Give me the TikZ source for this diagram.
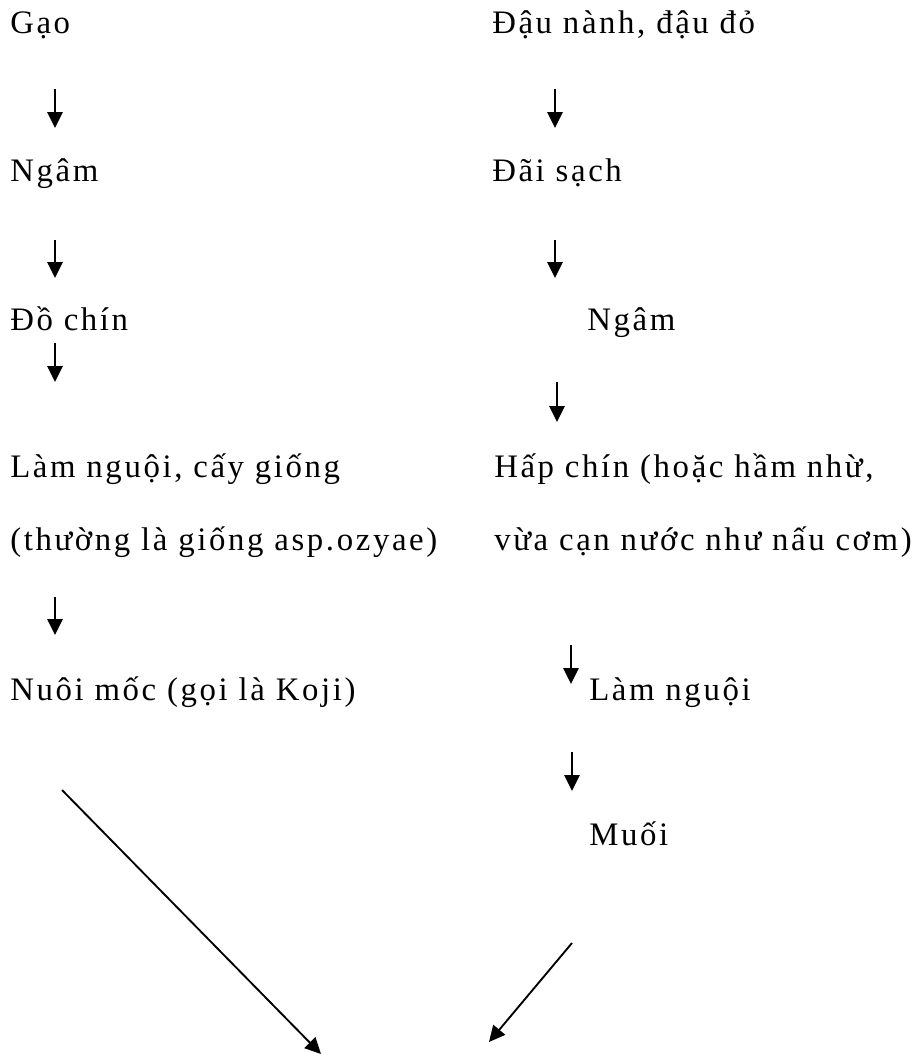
\documentclass[tikz,border=0pt]{standalone}
\usepackage{fontspec}
\setmainfont{Liberation Serif}[LetterSpace=8]
\usetikzlibrary{arrows.meta}
\begin{document}
\begin{tikzpicture}[x=0.75pt,y=-0.75pt,
  stepnode/.style={anchor=base west,inner sep=0pt,font=\fontsize{24.6pt}{29pt}\selectfont},
  arr/.style={line width=1.4pt,-{Triangle[length=12pt,width=11.5pt]}}]
\useasboundingbox (0,0) rectangle (915,1054);

% left column: rice
\node[stepnode] (gao)   at (10,33)  {Gạo};
\node[stepnode] (ngamL) at (10,181) {Ngâm};
\node[stepnode] (do)    at (10,330) {Đồ chín};
\node[stepnode] (lam)   at (10,477) {Làm nguội, cấy giống};
\node[stepnode] (thuong) at (10,550) {(thường là giống asp.ozyae)};
\node[stepnode] (nuoi)  at (10,700) {Nuôi mốc (gọi là Koji)};

% right column: beans
\node[stepnode] (dau)   at (492,33)  {Đậu nành, đậu đỏ};
\node[stepnode] (dai)   at (492,181) {Đãi sạch};
\node[stepnode] (ngamR) at (587,330) {Ngâm};
\node[stepnode] (hap)   at (494,477) {Hấp chín (hoặc hầm nhừ,};
\node[stepnode] (vua)   at (494,550) {vừa cạn nước như nấu cơm)};
\node[stepnode] (lamR)  at (589,700) {Làm nguội};
\node[stepnode] (muoi)  at (589,845) {Muối};

% arrow end points
\coordinate (l1a) at (55,89);  \coordinate (l1b) at (55,128);
\coordinate (l2a) at (55,240); \coordinate (l2b) at (55,278);
\coordinate (l3a) at (55,343); \coordinate (l3b) at (55,382);
\coordinate (l4a) at (55,597); \coordinate (l4b) at (55,635);
\coordinate (r1a) at (555,89);  \coordinate (r1b) at (555,128);
\coordinate (r2a) at (555,240); \coordinate (r2b) at (555,278);
\coordinate (r3a) at (557,382); \coordinate (r3b) at (557,422);
\coordinate (r4a) at (571,645); \coordinate (r4b) at (571,684);
\coordinate (r5a) at (572,752); \coordinate (r5b) at (572,791);
\coordinate (kojiA) at (62,790);  \coordinate (kojiB) at (321,1054);
\coordinate (muoiA) at (572,943); \coordinate (muoiB) at (489,1042);

\draw[arr] (l1a) -- (l1b);
\draw[arr] (l2a) -- (l2b);
\draw[arr] (l3a) -- (l3b);
\draw[arr] (l4a) -- (l4b);
\draw[arr] (r1a) -- (r1b);
\draw[arr] (r2a) -- (r2b);
\draw[arr] (r3a) -- (r3b);
\draw[arr] (r4a) -- (r4b);
\draw[arr] (r5a) -- (r5b);
\draw[arr] (kojiA) -- (kojiB);
\draw[arr] (muoiA) -- (muoiB);
\end{tikzpicture}
\end{document}
